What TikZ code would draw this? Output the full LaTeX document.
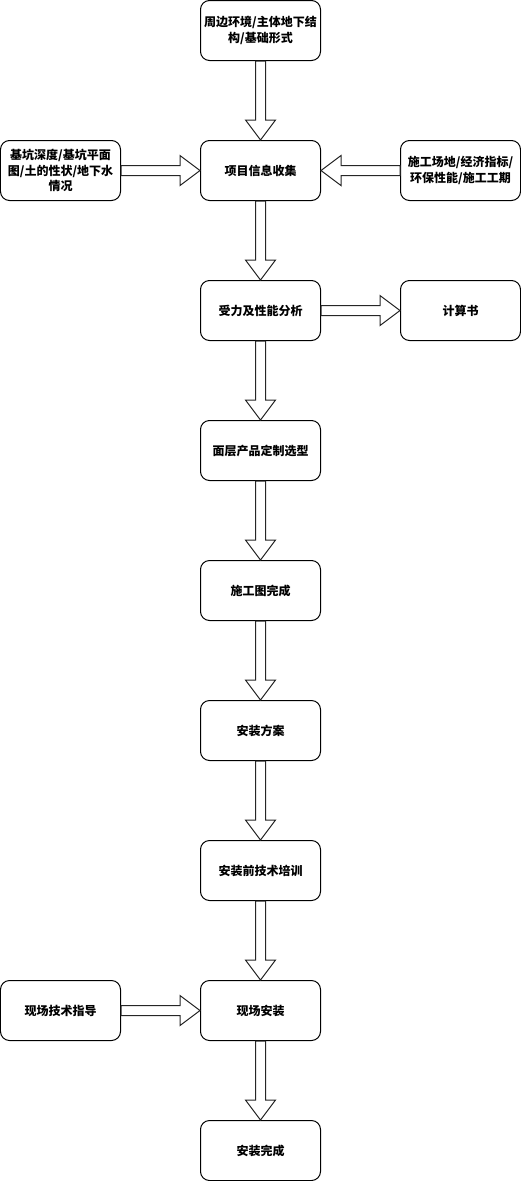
\documentclass[tikz,border=0pt]{standalone}
\usepackage{fontspec}
\setmainfont{Noto Sans CJK SC}
\usetikzlibrary{calc}
\tikzset{
  box/.style={draw=black, line width=1pt, rounded corners=9pt, fill=white,
    minimum width=120pt, minimum height=60pt, inner sep=0pt, align=center,
    font=\fontsize{12}{15.5}\selectfont\bfseries},
  blk/.style={draw=black!85, line width=1pt, fill=white, line join=miter}
}
\newcommand{\varr}[2]{%
  \draw[blk] ($(#1.south)+(-5pt,0)$) -- ($(#2.north)+(-5pt,20pt)$) -- ($(#2.north)+(-15pt,20pt)$) -- (#2.north)
   -- ($(#2.north)+(15pt,20pt)$) -- ($(#2.north)+(5pt,20pt)$) -- ($(#1.south)+(5pt,0)$) -- cycle;}
\newcommand{\rarr}[2]{%
  \draw[blk] ($(#1.east)+(0,5pt)$) -- ($(#2.west)+(-20pt,5pt)$) -- ($(#2.west)+(-20pt,15pt)$) -- (#2.west)
   -- ($(#2.west)+(-20pt,-15pt)$) -- ($(#2.west)+(-20pt,-5pt)$) -- ($(#1.east)+(0,-5pt)$) -- cycle;}
\newcommand{\larr}[2]{%
  \draw[blk] ($(#1.west)+(0,5pt)$) -- ($(#2.east)+(20pt,5pt)$) -- ($(#2.east)+(20pt,15pt)$) -- (#2.east)
   -- ($(#2.east)+(20pt,-15pt)$) -- ($(#2.east)+(20pt,-5pt)$) -- ($(#1.west)+(0,-5pt)$) -- cycle;}
\begin{document}
\begin{tikzpicture}[x=1pt,y=1pt]
\useasboundingbox (-0.5,0.5) rectangle (520.5,-1180.5);
\node[box] (n1) at (260,-30) {周边环境/主体地下结\\构/基础形式};
\node[box] (n2) at (260,-170) {项目信息收集};
\node[box] (l2) at (60,-170) {基坑深度/基坑平面\\图/土的性状/地下水\\情况};
\node[box] (r2) at (460,-170) {施工场地/经济指标/\\环保性能/施工工期};
\node[box] (n3) at (260,-310) {受力及性能分析};
\node[box] (r3) at (460,-310) {计算书};
\node[box] (n4) at (260,-450) {面层产品定制选型};
\node[box] (n5) at (260,-590) {施工图完成};
\node[box] (n6) at (260,-730) {安装方案};
\node[box] (n7) at (260,-870) {安装前技术培训};
\node[box] (n8) at (260,-1010) {现场安装};
\node[box] (l8) at (60,-1010) {现场技术指导};
\node[box] (n9) at (260,-1150) {安装完成};
\varr{n1}{n2}
\varr{n2}{n3}
\varr{n3}{n4}
\varr{n4}{n5}
\varr{n5}{n6}
\varr{n6}{n7}
\varr{n7}{n8}
\varr{n8}{n9}
\rarr{l2}{n2}
\larr{r2}{n2}
\rarr{n3}{r3}
\rarr{l8}{n8}
\end{tikzpicture}
\end{document}
